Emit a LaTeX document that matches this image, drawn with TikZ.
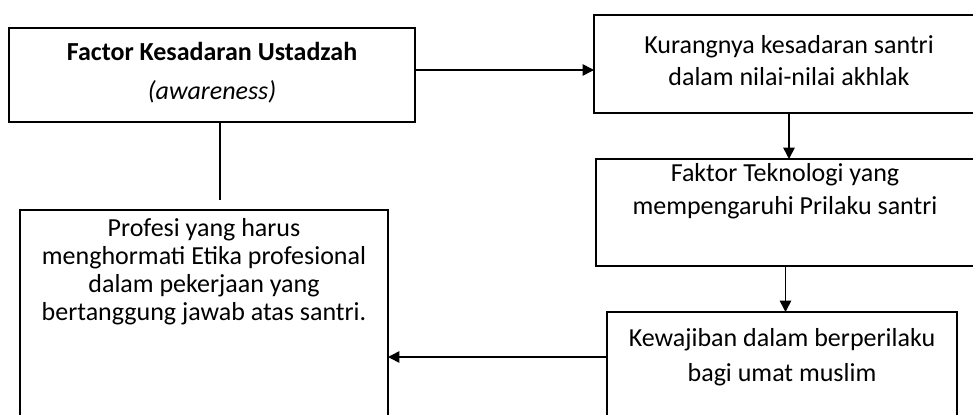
\documentclass[tikz,border=0pt]{standalone}
\usepackage{fontspec}
\setmainfont{Carlito}
\usetikzlibrary{arrows.meta}
\tikzset{
  box/.style={draw,line width=1.2pt,inner sep=0pt,outer sep=0pt},
  boxtext/.style={align=center,inner sep=0pt,font=\fontsize{19.5}{#1}\selectfont},
  link/.style={line width=1.2pt},
  arr/.style={link,-{Triangle[length=8.5pt,width=8.5pt]}}
}
\begin{document}
\begin{tikzpicture}[x=0.75pt,y=-0.75pt]
  \useasboundingbox (0,0) rectangle (973,414);
  \clip (0,0) rectangle (973,414);
  % boxes
  \node[box,minimum width=304.5pt,minimum height=70.5pt] (ustadzah) at (212,75) {};
  \node[box,minimum width=292.5pt,minimum height=73.5pt] (kurang) at (789,64) {};
  \node[box,minimum width=284.25pt,minimum height=80.25pt] (teknologi) at (785.5,212.5) {};
  \node[box,minimum width=262.5pt,minimum height=112.5pt] (kewajiban) at (782,387) {};
  \node[box,minimum width=276pt,minimum height=187.5pt] (profesi) at (204,335) {};
  % texts
  \node[boxtext=29] (ustadzahtxt) at (212,73)
    {\textbf{Factor Kesadaran Ustadzah}\\\textit{(awareness)}};
  \node[boxtext=24] (kurangtxt) at (789,61)
    {Kurangnya kesadaran santri\\dalam nilai-nilai akhlak};
  \node[boxtext=24.5] (teknologitxt) at (785,191)
    {Faktor Teknologi yang\\mempengaruhi Prilaku santri};
  \node[boxtext=26.5] (kewajibantxt) at (782,357)
    {Kewajiban dalam berperilaku\\bagi umat muslim};
  \node[boxtext=21] (profesitxt) at (204,272)
    {Profesi yang harus\\menghormati Etika profesional\\dalam pekerjaan yang\\bertanggung jawab atas santri.};
  % connectors
  \coordinate (stop) at (220,200);
  \draw[arr] ([yshift=3.75pt]ustadzah.east) -- ([yshift=3.75pt]ustadzah.east -| kurang.west);
  \draw[link] (ustadzah.south -| stop) -- (stop);
  \draw[arr] (kurang.south) -- (kurang.south |- teknologi.north);
  \draw[arr] (teknologi.south) -- (teknologi.south |- kewajiban.north);
  \draw[arr] ([yshift=22.5pt]kewajiban.west) -- ([yshift=22.5pt]kewajiban.west -| profesi.east);
\end{tikzpicture}
\end{document}
